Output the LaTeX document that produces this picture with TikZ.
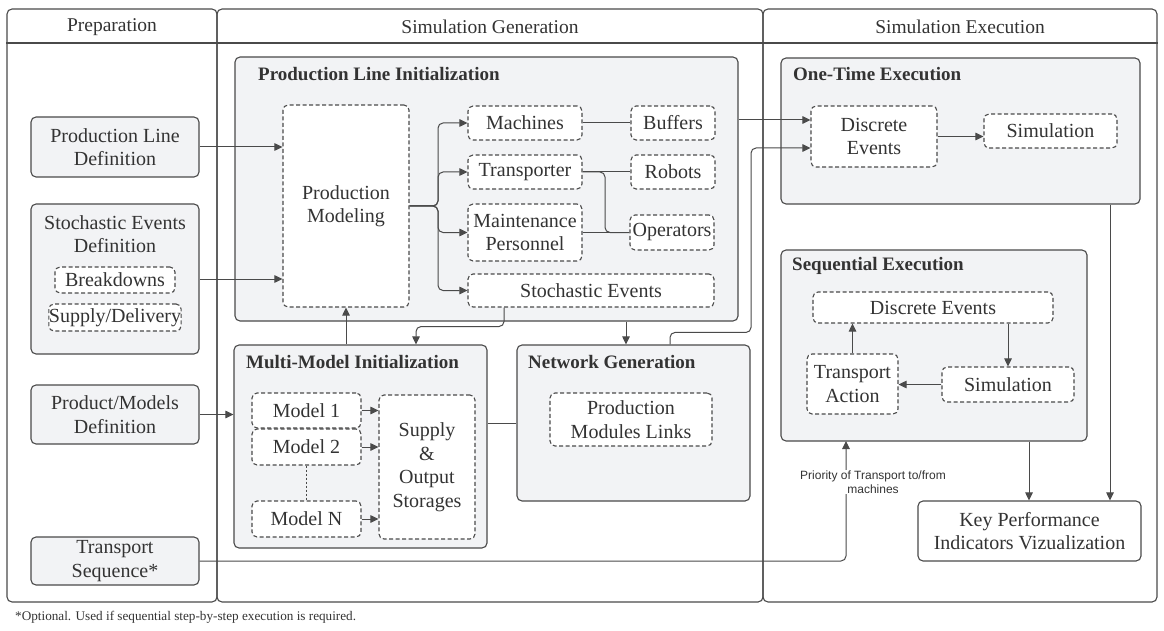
\documentclass[tikz,border=0pt]{standalone}
\usepackage{fontspec}
\setmainfont{Liberation Serif}
\newfontfamily\sansf{Liberation Sans}
\usetikzlibrary{arrows.meta,positioning,calc}
\definecolor{ln}{HTML}{4A4A4A}
\definecolor{tx}{HTML}{333333}
\definecolor{fl}{HTML}{F2F3F5}
\tikzset{
  lane/.style={draw=ln, line width=1.1pt, rounded corners=5pt, inner sep=0pt},
  gbox/.style={draw=ln, fill=fl, line width=1.1pt, rounded corners=5pt, inner sep=0pt, align=center, text=tx, font=\fontsize{20}{23.5}\selectfont},
  dbox/.style={draw=ln, fill=white, line width=1.1pt, dash pattern=on 4pt off 2.5pt, rounded corners=5pt, inner sep=0pt, align=center, text=tx, font=\fontsize{20}{23.5}\selectfont},
  wbox/.style={draw=ln, fill=white, line width=1.1pt, rounded corners=5pt, inner sep=0pt, align=center, text=tx, font=\fontsize{20}{23.5}\selectfont},
  ttl/.style={anchor=west, inner sep=0pt, text=tx, font=\fontsize{19}{22}\selectfont\bfseries},
  hdr/.style={inner sep=0pt, text=tx, font=\fontsize{19.5}{23}\selectfont},
  con/.style={draw=ln, line width=1pt},
  arr/.style={con, -{Triangle[length=8pt,width=7.5pt]}},
}
\begin{document}
\begin{tikzpicture}[x=1pt,y=-1pt]
\useasboundingbox (0,0) rectangle (1164,631);
% lanes
\node[lane, minimum width=210pt, minimum height=593pt] (lprep) at (112,305.5) {};
\node[lane, minimum width=546pt, minimum height=593pt] (lgen) at (490,305.5) {};
\node[lane, minimum width=394pt, minimum height=593pt] (lexe) at (960,305.5) {};
\draw[con, line width=1.1pt] (lprep.west |- 0,43) -- (lexe.east |- 0,43);
\node[hdr] (hprep) at (112,27) {Preparation};
\node[hdr] (hgen) at (490,27) {Simulation Generation};
\node[hdr] (hexe) at (960,27) {Simulation Execution};

% preparation
\node[gbox, minimum width=168pt, minimum height=60pt] (pld) at (115,147) {Production Line\\Definition};
\node[gbox, minimum width=168pt, minimum height=150pt] (sed) at (115,279) {};
\node[inner sep=0pt, align=center, text=tx, font=\fontsize{20}{23.5}\selectfont] (sedt) at (115,234) {Stochastic Events\\Definition};
\node[dbox, minimum width=120pt, minimum height=26pt] (brk) at (115,280) {Breakdowns};
\node[dbox, minimum width=120pt, minimum height=27pt] (sup) at (115,317.5) {Supply/Delivery};
\node[gbox, minimum width=168pt, minimum height=59pt] (pmd) at (115,414.5) {Product/Models\\Definition};
\node[gbox, minimum width=168pt, minimum height=48pt] (ts) at (115,561) {Transport\\Sequence*};

% production line initialization
\node[gbox, minimum width=503pt, minimum height=264pt] (pli) at (486.5,189) {};
\node[ttl] (plit) at (258,74) {Production Line Initialization};
\node[dbox, minimum width=126pt, minimum height=202pt] (pm) at (346,206) {Production\\Modeling};
\node[dbox, minimum width=114pt, minimum height=34pt] (mach) at (525,123) {Machines};
\node[dbox, minimum width=114pt, minimum height=34pt] (trans) at (525,172) {Transporter};
\node[dbox, minimum width=114pt, minimum height=57pt] (maint) at (525,232.5) {Maintenance\\Personnel};
\node[dbox, minimum width=246pt, minimum height=33pt] (se) at (591,290.5) {Stochastic Events};
\node[dbox, minimum width=84pt, minimum height=34pt] (buf) at (673,123) {Buffers};
\node[dbox, minimum width=84pt, minimum height=34pt] (rob) at (673,172) {Robots};
\node[dbox, minimum width=84pt, minimum height=35pt] (op) at (672,232.5) {Operators};

% multi-model
\node[gbox, minimum width=253pt, minimum height=203pt] (mmi) at (360.5,446.5) {};
\node[ttl] (mmit) at (246,362) {Multi-Model Initialization};
\node[dbox, minimum width=109pt, minimum height=35pt] (m1) at (306.5,410.5) {Model 1};
\node[dbox, minimum width=109pt, minimum height=36pt] (m2) at (306.5,447) {Model 2};
\node[dbox, minimum width=109pt, minimum height=36pt] (mN) at (306.5,519) {Model N};
\node[dbox, minimum width=96pt, minimum height=144pt] (sto) at (427,467) {Supply\\\&\\Output\\Storages};

% network generation
\node[gbox, minimum width=233pt, minimum height=156pt] (ng) at (633.5,423) {};
\node[ttl] (ngt) at (528,362) {Network Generation};
\node[dbox, minimum width=162pt, minimum height=53pt] (pml) at (631,419.5) {Production\\Modules Links};

% one-time execution
\node[gbox, minimum width=359pt, minimum height=146pt] (ote) at (960.5,131) {};
\node[ttl] (otet) at (793,74) {One-Time Execution};
\node[dbox, minimum width=126pt, minimum height=61pt] (de1) at (874,136.5) {Discrete\\Events};
\node[dbox, minimum width=133pt, minimum height=34pt] (sim1) at (1050.5,131) {Simulation};

% sequential execution
\node[gbox, minimum width=306pt, minimum height=191pt] (seq) at (934,345.5) {};
\node[ttl] (seqt) at (792,266) {Sequential Execution};
\node[dbox, minimum width=240pt, minimum height=31pt] (de2) at (933,307.5) {Discrete Events};
\node[dbox, minimum width=91pt, minimum height=60pt] (ta) at (852.5,384) {Transport\\Action};
\node[dbox, minimum width=132pt, minimum height=35pt] (sim2) at (1008,384.5) {Simulation};

\node[wbox, minimum width=223pt, minimum height=60pt] (kpi) at (1029.5,531) {Key Performance\\Indicators Vizualization};

% connectors: preparation
\draw[arr] (pld.east) -- (pld.east -| pm.west);
\draw[arr] (sed.east) -- (sed.east -| pm.west);
\draw[arr] (pmd.east) -- (pmd.east -| mmi.west);
\coordinate (tsup) at (846,441);
\draw[arr, rounded corners=5pt] (ts.east) -| (tsup);
\node[fill=white, inner sep=1pt, align=center, text=tx, font=\sansf\fontsize{12}{14}\selectfont] (prio) at (873,482) {Priority of Transport to/from\\machines};

% production modeling branches
\coordinate (br) at (438,206);
\draw[arr, rounded corners=5pt] (pm.east) -- (br) |- (mach.west);
\draw[arr, rounded corners=5pt] (pm.east) -- (br) |- (trans.west);
\draw[arr, rounded corners=5pt] (pm.east) -- (br) |- (maint.west);
\draw[arr, rounded corners=5pt] (pm.east) -- (br) |- (se.west);
\draw[con] (mach.east) -- (buf.west);
\draw[con] (trans.east) -- (rob.west);
\coordinate (tb) at (605,172);
\draw[con, rounded corners=5pt] (trans.east) -- (tb) |- (op.west);
\draw[con] (maint.east) -- (op.west);

% between groups
\draw[arr, rounded corners=5pt] ([xshift=-87pt]se.south) -- ++(0,19) -| ([xshift=55.5pt]mmi.north);
\coordinate (c1) at ([xshift=139.5pt]pli.south);
\draw[arr] (c1) -- (c1 |- ng.north);
\coordinate (c2) at ([xshift=-14.5pt]mmi.north);
\draw[arr] (c2) -- (c2 |- pm.south);
\draw[con] (ng.west) -- (ng.west -| mmi.east);
\coordinate (c3) at ([xshift=36.5pt]ng.north);
\coordinate (c4) at ([yshift=-11.5pt]de1.west);
\draw[arr, rounded corners=5pt] (c3) -- ++(0,-12) -- ++(81,0) |- (c4);
\coordinate (c5) at ([yshift=69pt]pli.east);
\draw[arr] (c5) -- (c5 -| de1.west);

% models
\draw[arr] (m1.east) -- (m1.east -| sto.west);
\draw[arr] (m2.east) -- (m2.east -| sto.west);
\draw[arr] (mN.east) -- (mN.east -| sto.west);
\draw[draw=ln, line width=1pt, dash pattern=on 2pt off 2pt] (m2.south) -- (mN.north);

% execution
\draw[arr] (de1.east) -- (de1.east -| sim1.west);
\coordinate (c6) at ([xshift=149.5pt]ote.south);
\draw[arr] (c6) -- (c6 |- kpi.north);
\coordinate (c7) at ([xshift=95pt]seq.south);
\draw[arr] (c7) -- (c7 |- kpi.north);
\draw[arr] (sim2.north |- de2.south) -- (sim2.north);
\draw[arr] (sim2.west) -- (sim2.west -| ta.east);
\draw[arr] (ta.north) -- (ta.north |- de2.south);

\node[anchor=west, inner sep=0pt, text=tx, font=\fontsize{13.2}{15}\selectfont] (foot) at (15,617) {*Optional. Used if sequential step-by-step execution is required.};
\end{tikzpicture}
\end{document}
